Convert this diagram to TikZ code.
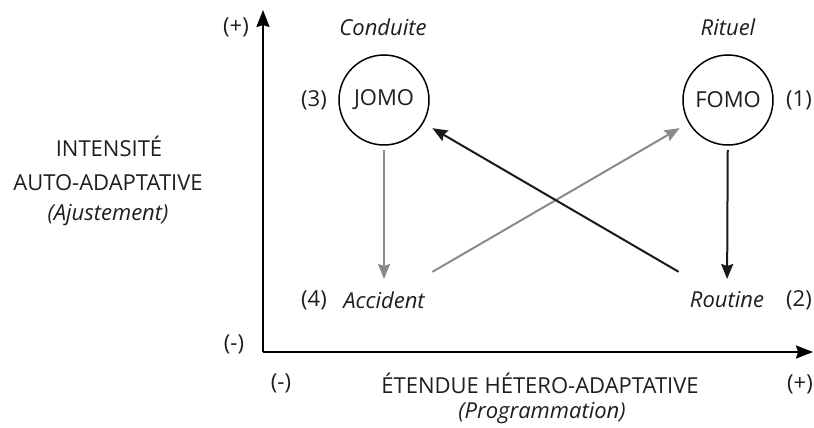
\documentclass[tikz,border=0pt]{standalone}
\usepackage{fontspec}
\setmainfont{Open Sans}
\usetikzlibrary{arrows.meta}
\definecolor{linkgray}{HTML}{8A8A8A}
\definecolor{inkgray}{HTML}{1E1E1E}
\tikzset{
  lbl/.style={anchor=center,inner sep=1pt,text=inkgray,font=\fontsize{22}{26}\selectfont},
  lbli/.style={lbl,font=\fontsize{22}{26}\selectfont\itshape},
  bubble/.style={circle,draw=black,line width=1.5pt,minimum size=90pt,inner sep=0pt,text=inkgray,font=\fontsize{22}{26}\selectfont},
  axisline/.style={line width=2.2pt,-{Stealth[length=17pt,width=13pt,inset=2pt]}},
  blacklink/.style={line width=2pt,black!90,-{Stealth[length=15pt,width=12pt,inset=2pt]}},
  graylink/.style={blacklink,linkgray}
}
\begin{document}
\begin{tikzpicture}[x=1pt,y=-1pt]
\path[use as bounding box] (0,0) rectangle (814,428);
% axes
\coordinate (origin) at (263,352);
\coordinate (ytip) at (263,10);
\coordinate (xtip) at (813,352);
\draw[axisline] (origin) -- (ytip);
\draw[axisline] (origin) -- (xtip);
\node[lbl] (yplus) at (236,27) {(+)};
\node[lbl] (yminus) at (234,344) {(-)};
\node[lbl] (xminus) at (281,383) {(-)};
\node[lbl] (xplus) at (800,384) {(+)};
\node[lbl] (xtitle) at (540,383) {ÉTENDUE HÉTERO-ADAPTATIVE};
\node[lbli] (xsub) at (542,413) {(Programmation)};
\node[lbl] (ytitle1) at (109,146) {INTENSITÉ};
\node[lbl] (ytitle2) at (108,183) {AUTO-ADAPTATIVE};
\node[lbli] (ysub) at (108,215) {(Ajustement)};
% states
\node[bubble] (jomo) at (384,100) {JOMO};
\node[bubble] (fomo) at (728,100) {FOMO};
\node[lbli] (accident) at (384,300) {Accident};
\node[lbli] (routine) at (727,300) {Routine};
\node[lbli] (conduite) at (383,27) {Conduite};
\node[lbli] (rituel) at (728,27) {Rituel};
\node[lbl] (n3) at (314,100) {(3)};
\node[lbl] (n1) at (799,100) {(1)};
\node[lbl] (n4) at (314,300) {(4)};
\node[lbl] (n2) at (799,300) {(2)};
% transitions
\draw[graylink,shorten <=50pt,shorten >=21pt] (jomo.center) -- (accident.center);
\draw[blacklink,shorten <=50pt,shorten >=21pt] (fomo.center) -- (routine.center);
\draw[graylink,shorten <=56pt,shorten >=56pt] (accident.center) -- (fomo.center);
\draw[blacklink,shorten <=56pt,shorten >=56pt] (routine.center) -- (jomo.center);
\end{tikzpicture}
\end{document}
